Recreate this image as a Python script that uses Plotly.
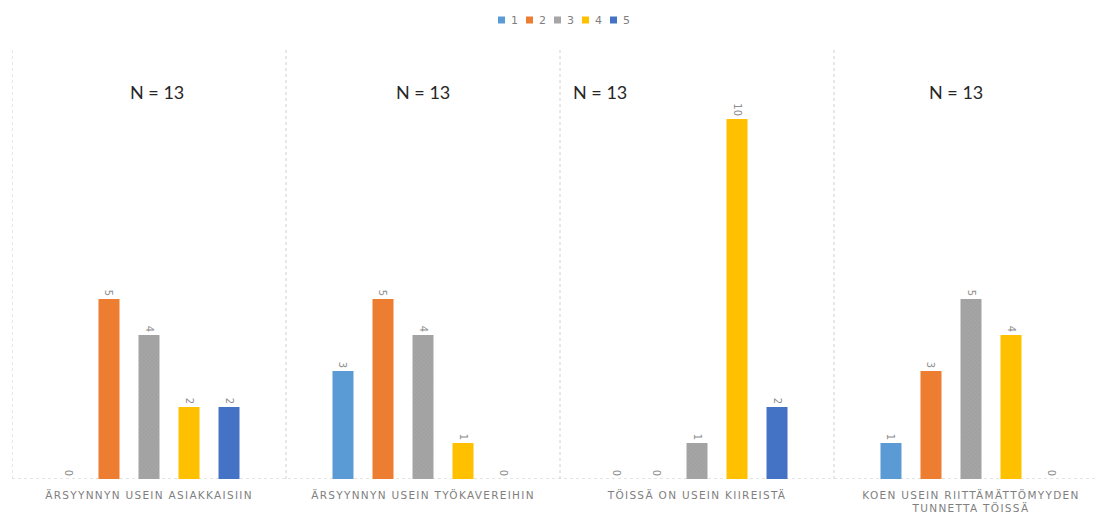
import plotly.graph_objects as go

# Survey statements (category axis) and answer counts per scale value 1..5
categories = [
    "ÄRSYYNNYN USEIN ASIAKKAISIIN",
    "ÄRSYYNNYN USEIN TYÖKAVEREIHIN",
    "TÖISSÄ ON USEIN KIIREISTÄ",
    "KOEN USEIN RIITTÄMÄTTÖMYYDEN<br>TUNNETTA TÖISSÄ",
]
series_names = ["1", "2", "3", "4", "5"]
counts_1 = [0, 3, 0, 1]
counts_2 = [5, 5, 0, 3]
counts_3 = [4, 4, 1, 5]
counts_4 = [2, 1, 10, 4]
counts_5 = [2, 0, 2, 0]
n_labels = ["N = 13", "N = 13", "N = 13", "N = 13"]

series_values = [counts_1, counts_2, counts_3, counts_4, counts_5]
colors = ["#5B9BD5", "#ED7D31", "#A5A5A5", "#FFC000", "#4472C4"]

W, H = 1098, 514
ML, MT, MB = 12, 47, 35
plot_w = W - ML
plot_h = H - MT - MB


def px_to_paper_x(px):
    return (px - ML) / plot_w


def px_to_paper_y(py):
    return (H - MB - py) / plot_h


fig = go.Figure()
for name, vals, col in zip(series_names, series_values, colors):
    marker = dict(color=col, line=dict(width=0))
    if name == "3":
        marker["pattern"] = dict(shape="x", size=3, solidity=0.3,
                                 fgcolor="#939393", bgcolor=col)
    fig.add_trace(go.Bar(
        name=name,
        x=categories,
        y=vals,
        marker=marker,
        texttemplate="%{y}",
        textposition="outside",
        textangle=90,
        constraintext="none",
        cliponaxis=False,
        showlegend=False,
        textfont=dict(family="DejaVu Sans", size=10, color="#8C8C8C"),
    ))

# "N = 13" headers, one per statement
n_positions = [0.03, 1.0, 1.645, 2.945]
for xpos, txt in zip(n_positions, n_labels):
    fig.add_annotation(x=xpos, y=10.75, xref="x", yref="y", text=txt,
                       showarrow=False,
                       font=dict(family="Lato", size=18, color="#262626"))

# compact legend row centred above the plot
legend_start_px, legend_step_px, legend_y_px = 501.5, 28.0, 20
for i, (name, col) in enumerate(zip(series_names, colors)):
    cx = legend_start_px + i * legend_step_px
    fig.add_shape(type="rect", xref="paper", yref="paper",
                  x0=px_to_paper_x(cx - 3.5), x1=px_to_paper_x(cx + 3.5),
                  y0=px_to_paper_y(legend_y_px + 3.5),
                  y1=px_to_paper_y(legend_y_px - 3.5),
                  fillcolor=col, line=dict(width=0))
    fig.add_annotation(x=px_to_paper_x(cx + 7), y=px_to_paper_y(legend_y_px),
                       xref="paper", yref="paper", text=name, showarrow=False,
                       xanchor="left", yanchor="middle",
                       font=dict(family="DejaVu Sans", size=11, color="#7F7F7F"))

# dotted separators between statement groups
for i in range(len(categories)):
    fig.add_shape(type="line", xref="x", yref="y", x0=i - 0.5, x1=i - 0.5,
                  y0=0, y1=12, line=dict(color="#D0D0D0", width=1, dash="dot"),
                  layer="below")
# dotted baseline
fig.add_shape(type="line", xref="paper", yref="y", x0=0, x1=1, y0=0, y1=0,
              line=dict(color="#C8C8C8", width=1, dash="dot"), layer="below")

fig.update_layout(
    width=W,
    height=H,
    margin=dict(l=ML, r=0, t=MT, b=MB),
    plot_bgcolor="white",
    paper_bgcolor="white",
    barmode="group",
    bargap=0.27,
    bargroupgap=0.475,
    showlegend=False,
    xaxis=dict(range=[-0.5, -0.5 + plot_w / 274], showgrid=False,
               showline=False, zeroline=False, ticks="",
               ticklabelstandoff=8,
               tickfont=dict(family="DejaVu Sans", size=10.5, color="#7F7F7F")),
    yaxis=dict(range=[0, 12], visible=False, showgrid=False, zeroline=False),
)

# spaced-out capitals on the category labels
letter_spacing_js = """
var gd = document.getElementById('{plot_id}');
function spaceTicks() {
  gd.querySelectorAll('.xtick text').forEach(function (t) {
    t.style.letterSpacing = '1.3px';
  });
}
spaceTicks();
gd.on('plotly_afterplot', spaceTicks);
"""

fig.write_html("out.html", post_script=letter_spacing_js)
